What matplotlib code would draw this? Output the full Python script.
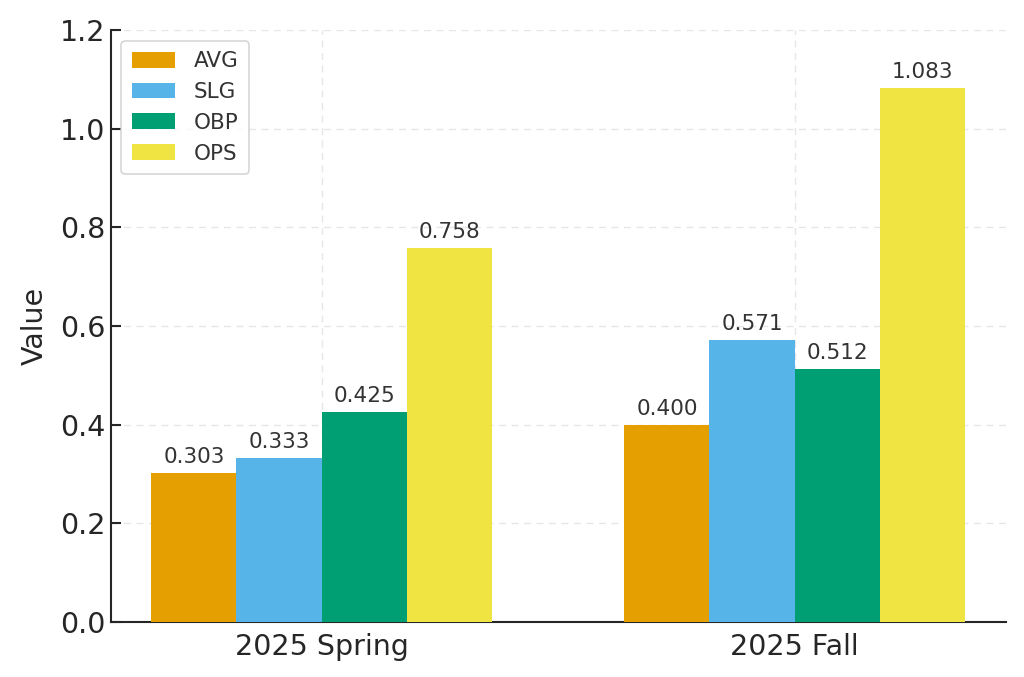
import matplotlib
matplotlib.use("Agg")
import matplotlib.pyplot as plt
import numpy as np

categories = ["2025 Spring", "2025 Fall"]
metrics = ["AVG", "SLG", "OBP", "OPS"]
avg = [0.303, 0.400]
slg = [0.333, 0.571]
obp = [0.425, 0.512]
ops = [0.758, 1.083]
colors = ["#E69F00", "#56B4E9", "#009E73", "#F0E442"]

series = [avg, slg, obp, ops]
text_color = "#262626"

fig = plt.figure(figsize=(10.24, 6.77), dpi=100)
ax = fig.add_axes([0.108, 0.081, 0.874, 0.875])

x = np.arange(len(categories))
width = 0.18
for i, (name, vals, c) in enumerate(zip(metrics, series, colors)):
    offs = (i - 1.5) * width
    bars = ax.bar(x + offs, vals, width, color=c, label=name, zorder=3)
    for b, v in zip(bars, vals):
        ax.text(b.get_x() + b.get_width() / 2, v + 0.012, f"{v:.3f}",
                ha="center", va="bottom", fontsize=15.5, color="#333333", zorder=4)

ax.set_ylim(0, 1.2)
ax.set_yticks(np.arange(0, 1.21, 0.2))
ax.set_yticklabels([f"{t:.1f}" for t in np.arange(0, 1.21, 0.2)])
ax.set_xticks(x)
ax.set_xticklabels(categories)
ax.set_ylabel("Value", fontsize=20.5, color=text_color, labelpad=8)
ax.tick_params(axis="both", direction="in", labelsize=20.5, colors=text_color, length=7, width=1.5)
ax.tick_params(axis="x", pad=8)
ax.grid(True, linestyle=(0, (5, 4)), color="#e6e6e6", linewidth=1, zorder=0)
for s in ["top", "right"]:
    ax.spines[s].set_visible(False)
for s in ["left", "bottom"]:
    ax.spines[s].set_linewidth(1.5)
    ax.spines[s].set_color(text_color)

leg = ax.legend(loc="upper left", fontsize=15.5, frameon=True, borderpad=0.5,
                handlelength=2.0, handleheight=0.75, handletextpad=0.85, labelspacing=0.5)
leg.get_frame().set_edgecolor("#cccccc")
leg.get_frame().set_linewidth(1.2)
for t in leg.get_texts():
    t.set_color("#333333")

fig.savefig("out.png", dpi=100)
